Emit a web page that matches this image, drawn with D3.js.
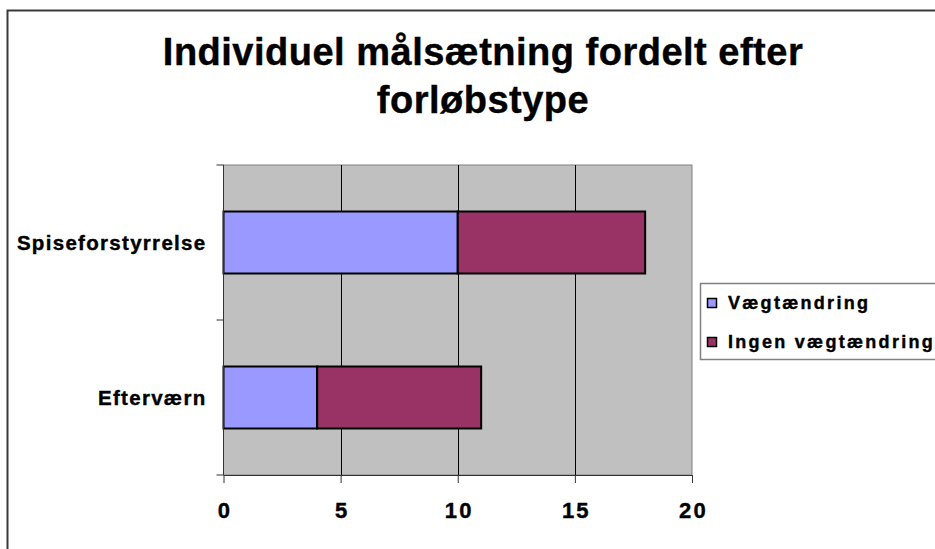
<!DOCTYPE html>
<html>
<head>
<meta charset="utf-8">
<script src="https://cdn.jsdelivr.net/npm/d3@7"></script>
<style>
  html, body { margin: 0; padding: 0; background: #fff; }
  svg { display: block; }
  text { font-family: "Liberation Sans", Arial, sans-serif; font-weight: bold; fill: #000; stroke: #000; stroke-width: 0.4px; }
</style>
</head>
<body>
<svg id="chart" width="935" height="549"></svg>
<script>
// Forløbstyper (y-akse) og antal borgere pr. målsætning
const categories = ["Spiseforstyrrelse", "Efterværn"];
const seriesNames = ["Vægtændring", "Ingen vægtændring"];
const vaegtaendring = [10, 4];
const ingenVaegtaendring = [8, 7];
const xTicks = [0, 5, 10, 15, 20];
const titleLines = ["Individuel målsætning fordelt efter", "forløbstype"];
const colors = ["#9999FF", "#993366"];

const svg = d3.select("#chart");

// ydre ramme om diagrammet
svg.append("rect")
  .attr("x", 7.5).attr("y", 10.5)
  .attr("width", 960).attr("height", 600)
  .attr("fill", "#fff")
  .attr("stroke", "#3a3a3a").attr("stroke-width", 2);

const plot = { left: 223.5, right: 692, top: 165, bottom: 475 };

const x = d3.scaleLinear().domain([0, 20]).range([plot.left, plot.right]);
const y = d3.scaleBand().domain(categories)
  .range([plot.top, plot.bottom])
  .paddingInner(0.6).paddingOuter(0.3);

// grå plotflade
svg.append("rect")
  .attr("x", plot.left).attr("y", plot.top)
  .attr("width", plot.right - plot.left).attr("height", plot.bottom - plot.top)
  .attr("fill", "#C0C0C0")
  .attr("stroke", "#808080").attr("stroke-width", 1);

// lodrette gitterlinjer
svg.append("g").selectAll("line")
  .data(xTicks.filter(d => d > 0 && d < 20))
  .join("line")
  .attr("x1", d => Math.round(x(d)) + 0.5).attr("x2", d => Math.round(x(d)) + 0.5)
  .attr("y1", plot.top).attr("y2", plot.bottom)
  .attr("stroke", "#000").attr("stroke-width", 1);

// stablede søjler
const rows = categories.map((c, i) => ({
  cat: c,
  [seriesNames[0]]: vaegtaendring[i],
  [seriesNames[1]]: ingenVaegtaendring[i]
}));
const stacked = d3.stack().keys(seriesNames)(rows);

svg.append("g").selectAll("g")
  .data(stacked)
  .join("g")
  .attr("fill", (d, i) => colors[i])
  .selectAll("rect")
  .data(d => d)
  .join("rect")
  .attr("x", d => x(d[0]))
  .attr("y", d => y(d.data.cat))
  .attr("width", d => x(d[1]) - x(d[0]))
  .attr("height", y.bandwidth())
  .attr("stroke", "#000").attr("stroke-width", 2);

// x-akse
const xAxis = svg.append("g")
  .attr("transform", `translate(0,${plot.bottom})`)
  .call(d3.axisBottom(x).tickValues(xTicks).tickSize(8).tickPadding(19).tickSizeOuter(0));
xAxis.select(".domain").attr("stroke", "#333");
xAxis.selectAll(".tick line").attr("stroke", "#333");
xAxis.selectAll(".tick text")
  .attr("font-size", 22).attr("letter-spacing", 2.2).attr("dx", 1)
  .attr("font-family", "'Liberation Sans', Arial, sans-serif")
  .attr("font-weight", "bold").attr("fill", "#000");

// y-akse: streger mellem kategorierne
const yAxis = svg.append("g").attr("transform", `translate(${plot.left},0)`);
yAxis.append("line")
  .attr("x1", 0).attr("x2", 0).attr("y1", plot.top).attr("y2", plot.bottom)
  .attr("stroke", "#333");
const bounds = [plot.top, (plot.top + plot.bottom) / 2, plot.bottom];
yAxis.selectAll("line.tk").data(bounds).join("line").attr("class", "tk")
  .attr("x1", -7).attr("x2", 0).attr("y1", d => d).attr("y2", d => d)
  .attr("stroke", "#333");
yAxis.selectAll("text").data(categories).join("text")
  .attr("x", -17)
  .attr("y", d => y(d) + y.bandwidth() / 2 + 7.5)
  .attr("text-anchor", "end")
  .attr("font-size", 20.5).attr("letter-spacing", 1.3)
  .text(d => d);

// titel
svg.append("g").selectAll("text").data(titleLines).join("text")
  .attr("x", 483).attr("y", (d, i) => 65 + i * 48)
  .attr("text-anchor", "middle")
  .attr("font-size", 38).attr("letter-spacing", 0.5)
  .text(d => d);

// forklaring
const legend = svg.append("g");
legend.append("rect")
  .attr("x", 700.5).attr("y", 283.5).attr("width", 260).attr("height", 76)
  .attr("fill", "#fff").attr("stroke", "#808080").attr("stroke-width", 1.5);
const items = legend.selectAll("g.item").data(seriesNames).join("g")
  .attr("class", "item")
  .attr("transform", (d, i) => `translate(0,${i * 39})`);
items.append("rect")
  .attr("x", 707.5).attr("y", 298.5).attr("width", 9).attr("height", 9)
  .attr("fill", (d, i) => colors[i])
  .attr("stroke", "#000").attr("stroke-width", 1.5);
items.append("text")
  .attr("x", 728).attr("y", 308.5)
  .attr("font-size", 18).attr("letter-spacing", 2.3)
  .text(d => d);
</script>
</body>
</html>
